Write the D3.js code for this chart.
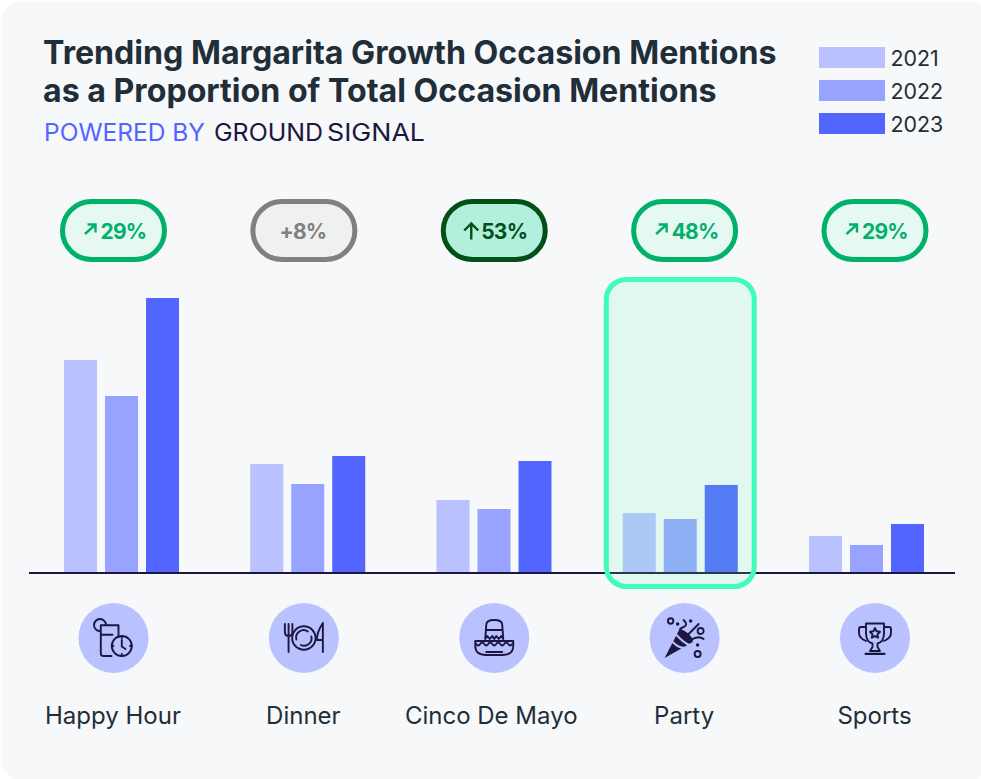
<!DOCTYPE html>
<html>
<head>
<meta charset="utf-8">
<script src="https://cdn.jsdelivr.net/npm/d3@7"></script>
<style>
  html, body { margin: 0; padding: 0; background: #fff; }
  text { font-family: Inter, "Noto Sans", sans-serif; }
</style>
</head>
<body>
<div id="chart"></div>
<script>
// data (share of mentions, estimated)
var categories = ["Happy Hour", "Dinner", "Cinco De Mayo", "Party", "Sports"];
var years = ["2021", "2022", "2023"];
var values2021 = [21.3, 10.9, 7.3, 6.0, 3.7];
var values2022 = [17.7, 8.9, 6.4, 5.4, 2.8];
var values2023 = [27.5, 11.7, 11.2, 8.8, 4.9];
var growthLabels = ["29%", "+8%", "53%", "48%", "29%"];
var growthKinds = ["rising", "flat", "surging", "rising", "rising"];
var highlighted = "Party";

var width = 981, height = 779;
var ink = "#1f2e38", dark = "#1c1740";

var yearColor = d3.scaleOrdinal().domain(years).range(["#b9c1ff", "#98a3ff", "#5266ff"]);
var pillStyle = {
  rising: {stroke: "#00b16a", fill: "#e5f9f2", text: "#00b16a"},
  flat: {stroke: "#808080", fill: "#eff1f0", text: "#808080"},
  surging: {stroke: "#024f18", fill: "#b2f0dd", text: "#024f18"}
};

var svg = d3.select("#chart").append("svg")
  .attr("width", width)
  .attr("height", height)
  .style("display", "block");

// card, runs slightly past the right and bottom edges
svg.append("rect")
  .attr("x", 1.5).attr("y", 1.5)
  .attr("width", 987).attr("height", 779)
  .attr("rx", 20)
  .attr("fill", "#f7f8fa");

// title
svg.append("text").attr("x", 43).attr("y", 64)
  .attr("font-size", 32.15).attr("font-weight", 700).attr("fill", ink)
  .text("Trending Margarita Growth Occasion Mentions");
svg.append("text").attr("x", 43).attr("y", 101.5)
  .attr("font-size", 32.15).attr("font-weight", 700).attr("fill", ink)
  .text("as a Proportion of Total Occasion Mentions");
svg.append("text").attr("x", 44).attr("y", 140.5)
  .attr("font-size", 24.5).attr("fill", "#5266ff")
  .text("POWERED BY");
// logo wordmark, two words set close together
svg.append("text").attr("x", 214).attr("y", 140.5)
  .attr("font-size", 24).attr("fill", dark)
  .attr("textLength", 109).attr("lengthAdjust", "spacingAndGlyphs")
  .text("GROUND");
svg.append("text").attr("x", 327).attr("y", 140.5)
  .attr("font-size", 24).attr("fill", dark)
  .attr("textLength", 98).attr("lengthAdjust", "spacingAndGlyphs")
  .text("SIGNAL");

// legend
var legend = svg.selectAll(".legend").data(years).enter().append("g")
  .attr("class", "legend")
  .attr("transform", function(d, i) { return "translate(819," + (47 + i * 33) + ")"; });
legend.append("rect")
  .attr("width", 66).attr("height", 21)
  .attr("fill", function(d) { return yearColor(d); });
legend.append("text")
  .attr("x", 71.5).attr("y", 18.5)
  .attr("font-size", 21.4).attr("fill", ink)
  .text(function(d) { return d; });

// scales
var x0 = d3.scaleBand().domain(categories).range([64, 924]).paddingInner(0.3826);
var x1 = d3.scaleBand().domain(years).range([0, x0.bandwidth()]).paddingInner(0.195);
var y = d3.scaleLinear().domain([0, 30]).range([573, 273]);
// pills, icons and labels sit on a slightly wider spacing than the bars
var xLabel = d3.scalePoint().domain(categories).range([113.5, 875]);

var seriesByYear = {"2021": values2021, "2022": values2022, "2023": values2023};

// bars
svg.append("g").selectAll("g")
  .data(categories).enter().append("g")
    .attr("transform", function(d) { return "translate(" + x0(d) + ",0)"; })
  .selectAll("rect")
  .data(function(d, i) { return years.map(function(yr) { return {year: yr, value: seriesByYear[yr][i]}; }); })
  .enter().append("rect")
    .attr("x", function(d) { return x1(d.year); })
    .attr("y", function(d) { return y(d.value); })
    .attr("width", x1.bandwidth())
    .attr("height", function(d) { return y(0) - y(d.value) + 1; })
    .attr("fill", function(d) { return yearColor(d.year); });

// baseline
svg.append("line")
  .attr("x1", 29).attr("x2", 955)
  .attr("y1", y(0)).attr("y2", y(0))
  .attr("stroke", dark).attr("stroke-width", 2);

// highlight box goes over the bars
svg.append("rect")
  .attr("x", x0(highlighted) - 16.5)
  .attr("y", 279.5)
  .attr("width", x0.bandwidth() + 33)
  .attr("height", 307)
  .attr("rx", 20)
  .attr("fill", "#5df8b7").attr("fill-opacity", 0.15)
  .attr("stroke", "#3dfdb8").attr("stroke-width", 5);

// growth pills
var pill = svg.selectAll(".pill").data(categories).enter().append("g")
  .attr("class", "pill")
  .attr("transform", function(d) { return "translate(" + xLabel(d) + ",230.5)"; });
pill.append("rect")
  .attr("x", -51).attr("y", -29)
  .attr("width", 102).attr("height", 58)
  .attr("rx", 29)
  .attr("fill", function(d, i) { return pillStyle[growthKinds[i]].fill; })
  .attr("stroke", function(d, i) { return pillStyle[growthKinds[i]].stroke; })
  .attr("stroke-width", 5);
pill.append("path")
  .attr("fill", "none")
  .attr("stroke-width", 2.4)
  .attr("stroke", function(d, i) { return pillStyle[growthKinds[i]].text; })
  .attr("d", function(d, i) {
    if (growthKinds[i] == "rising") return "M-28.5,3.5 L-18,-6 M-26,-6 H-18 V2";
    if (growthKinds[i] == "surging") return "M-23,9 V-7 M-30,0 L-23,-7 L-16,0";
    return null;
  });
pill.append("text")
  .attr("x", function(d, i) { return growthKinds[i] == "flat" ? -1 : -13; })
  .attr("y", 8.5)
  .attr("text-anchor", function(d, i) { return growthKinds[i] == "flat" ? "middle" : "start"; })
  .attr("font-size", 21).attr("font-weight", 700)
  .attr("letter-spacing", -0.8)
  .attr("fill", function(d, i) { return pillStyle[growthKinds[i]].text; })
  .text(function(d, i) { return growthLabels[i]; });

// icons, drawn around the centre of each disc
var icons = {
  "Happy Hour": function(g) {
    g.append("path").attr("d", "M-12.7,-7 A6,6 0 1 1 -7.5,-12.7 M-12.7,-12.7 H5 V-1 M-12.7,-12.7 V15.5 Q-12.7,18 -10,18 H-2 M-12.7,-3.3 H-1");
    g.append("circle").attr("cx", 8.3).attr("cy", 8).attr("r", 10);
    g.append("path").attr("d", "M8.3,2 V8.5 L12,11 M8.3,-2 V0 M8.3,16 V18 M-1.7,8 H0 M16.5,8 H18.3");
  },
  "Dinner": function(g) {
    g.append("path").attr("d", "M-15.3,14 V-14 M-19,-14 V-6 Q-19,-2 -15.3,-2 Q-11.5,-2 -11.5,-6 V-14");
    g.append("circle").attr("r", 11.7);
    g.append("path").attr("d", "M-7.5,1.5 A7.5,7.5 0 0 1 4,-6.5 M7.5,-1.5 A7.5,7.5 0 0 1 -3,7");
    g.append("path").attr("d", "M19,14 V-15 Q13,-6 13,2 H19");
  },
  "Cinco De Mayo": function(g) {
    g.append("path").attr("d", "M-9,1 L-8,-13 Q-8,-18 0,-18 Q8,-18 8,-13 L9,1 M-8,-8 H8 M-9,1 L-7,-2 L-4.5,1 L-2,-2 L0,1 L2,-2 L4.5,1 L7,-2 L9,1");
    g.append("path").attr("d", "M-19,3 H19 V8 Q19,17 8,17 H-8 Q-19,17 -19,8 Z M-8,14 H8");
    g.append("path").attr("d", "M-18,6 q2,3 4,0 t4,0 t4,0 t4,0 t4,0 t4,0 t4,0 t4,0 t4,0");
  },
  "Party": function(g) {
    g.append("path").attr("d", "M-20,20 L-5,-9 Q0,-8 5,-3 Q9,1 8,4 Z").attr("fill", dark).attr("stroke", "none");
    g.append("path").attr("d", "M-12,4 Q-6,10 0,10 M-8,-3 Q-1,5 5,7").attr("stroke", "#b9c1ff").attr("stroke-width", 2);
    g.append("path").attr("d", "M14,-14 L1,-1 M-1,-18 Q4,-13 -1,-11 Q-6,-9 -4,-8 M6,2 Q14,-3 19,1");
    g.selectAll(".dot").data([[-14, -17, 2.7], [16, -7, 3], [13, 16, 3]]).enter().append("circle")
      .attr("cx", function(d) { return d[0]; }).attr("cy", function(d) { return d[1]; }).attr("r", function(d) { return d[2]; });
    g.selectAll(".spot").data([[6, -17], [-7, -14], [13, 7]]).enter().append("circle")
      .attr("cx", function(d) { return d[0]; }).attr("cy", function(d) { return d[1]; }).attr("r", 0.8);
  },
  "Sports": function(g) {
    g.append("path").attr("d", "M-9,-14.5 H9 V-5 Q9,4 2.5,5.5 V9 L5,13 H-5 L-2.5,9 V5.5 Q-9,4 -9,-5 Z");
    g.append("path").attr("d", "M-9,-11 H-14 Q-16,-11 -16,-9 V-5 Q-16,0 -9,3 M9,-11 H14 Q16,-11 16,-9 V-5 Q16,0 9,3");
    g.append("path").attr("d", "M-9.5,15.8 H9.5").attr("stroke-width", 2.2);
    g.append("path").attr("d", "M0,-10 L1.6,-6.7 L5,-6.2 L2.5,-3.7 L3.1,-0.3 L0,-2 L-3.1,-0.3 L-2.5,-3.7 L-5,-6.2 L-1.6,-6.7 Z");
  }
};

var iconGroup = svg.selectAll(".icon").data(categories).enter().append("g")
  .attr("class", "icon")
  .attr("transform", function(d) { return "translate(" + xLabel(d) + ",638)"; });
iconGroup.append("circle").attr("r", 35).attr("fill", "#b9c1ff");
iconGroup.append("g")
  .attr("fill", "none")
  .attr("stroke", dark)
  .attr("stroke-width", 1.9)
  .attr("stroke-linecap", "round")
  .attr("stroke-linejoin", "round")
  .each(function(d) { icons[d](d3.select(this)); });

// category labels
var labelAxis = svg.append("g")
  .attr("transform", "translate(-1,707)")
  .call(d3.axisBottom(xLabel).tickSize(0).tickPadding(0));
labelAxis.select(".domain").remove();
labelAxis.selectAll("text")
  .attr("font-size", 24)
  .attr("font-family", "Inter")
  .attr("fill", ink)
  .attr("dx", function(d) { return d == "Cinco De Mayo" ? -2.5 : 0; });
</script>
</body>
</html>
